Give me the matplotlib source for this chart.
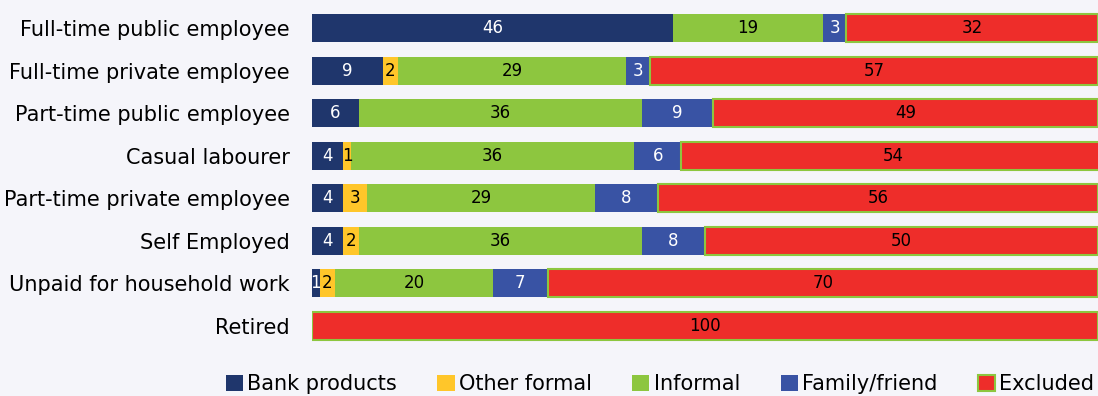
import matplotlib
matplotlib.use("Agg")
import matplotlib.pyplot as plt
import numpy as np

categories = [
    "Full-time public employee",
    "Full-time private employee",
    "Part-time public employee",
    "Casual labourer",
    "Part-time private employee",
    "Self Employed",
    "Unpaid for household work",
    "Retired",
]
series_names = ["Bank products", "Other formal", "Informal", "Family/friend", "Excluded"]
bank_products = [46, 9, 6, 4, 4, 4, 1, 0]
other_formal = [0, 2, 0, 1, 3, 2, 2, 0]
informal = [19, 29, 36, 36, 29, 36, 20, 0]
family_friend = [3, 3, 9, 6, 8, 8, 7, 0]
excluded = [32, 57, 49, 54, 56, 50, 70, 100]

colors = ["#1F366C", "#FFC62A", "#8DC63F", "#3953A4", "#EE2D2A"]
text_colors = ["white", "black", "black", "white", "black"]
bg = "#F5F5FA"

plt.rcParams["font.family"] = ["DejaVu Sans"]

fig = plt.figure(figsize=(10.98, 3.96), dpi=100, facecolor=bg)
ax = fig.add_axes([0.284, 0.123, 0.716, 0.860], facecolor=bg)

y = np.arange(len(categories))
left = np.zeros(len(categories))
all_series = [bank_products, other_formal, informal, family_friend, excluded]
for i, (name, vals) in enumerate(zip(series_names, all_series)):
    vals = np.array(vals, dtype=float)
    if name == "Excluded":
        ax.barh(y, vals, left=left, height=0.66, color=colors[i],
                edgecolor=colors[2], linewidth=1.5, label=name)
    else:
        ax.barh(y, vals, left=left, height=0.66, color=colors[i],
                linewidth=0, label=name)
    for yi, l, v in zip(y, left, vals):
        if v > 0:
            ax.text(l + v / 2, yi, f"{int(v)}", ha="center", va="center",
                    color=text_colors[i], fontsize=12)
    left += vals

ax.set_xlim(0, 100)
ax.set_ylim(len(categories) - 0.5, -0.5)
ax.set_yticks(y)
ax.set_yticklabels(categories, fontsize=15)
ax.tick_params(axis="y", length=0, pad=16)
ax.set_xticks([])
for s in ax.spines.values():
    s.set_visible(False)

handles, labels = ax.get_legend_handles_labels()
fig.legend(handles, labels, loc="center right", bbox_to_anchor=(1.004, 0.03),
           ncol=5, frameon=False, fontsize=15, handlelength=0.82, handleheight=0.82,
           handletextpad=0.2, columnspacing=1.95, borderaxespad=0)

fig.savefig("out.png", dpi=100, facecolor=bg)
